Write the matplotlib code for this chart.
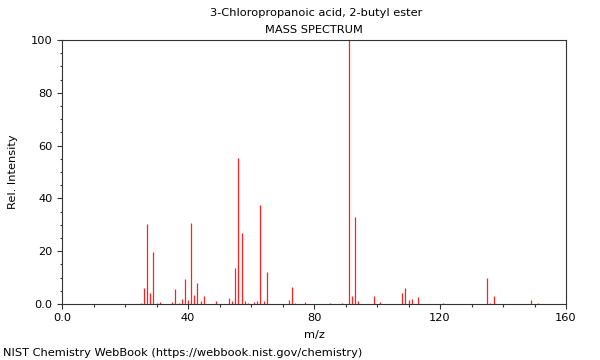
import matplotlib
matplotlib.use("Agg")
import matplotlib.pyplot as plt
from matplotlib.ticker import MultipleLocator

mz = [25, 26, 27, 28, 29, 30, 31, 35, 36, 37, 38, 39, 40, 41, 42, 43, 44, 45,
      49, 53, 54, 55, 56, 57, 58, 59, 61, 62, 63, 64, 65, 72, 73, 74, 77, 85,
      89, 91, 92, 93, 94, 99, 101, 108, 109, 110, 111, 113, 121, 135, 136,
      137, 149, 151]
intensity = [0.5, 6.2, 30.2, 4.0, 19.6, 0.5, 0.9, 0.9, 5.7, 0.5, 1.9, 9.6,
             1.5, 30.8, 3.5, 8.0, 1.3, 3.2, 1.3, 2.2, 1.1, 13.8, 55.3, 27.0,
             1.0, 0.5, 0.8, 1.1, 37.6, 1.3, 12.0, 1.6, 6.6, 0.4, 0.8, 0.4,
             0.4, 100.0, 3.0, 33.0, 1.1, 3.2, 0.8, 4.1, 6.2, 1.4, 1.8, 2.6,
             0.5, 9.8, 0.5, 3.2, 1.5, 0.4]

title1 = "3-Chloropropanoic acid, 2-butyl ester"
title2 = "MASS SPECTRUM"
xlabel = "m/z"
ylabel = "Rel. Intensity"
footer = "NIST Chemistry WebBook (https://webbook.nist.gov/chemistry)"
xticks = [0, 40, 80, 120, 160]
xticklabels = ["0.0", "40", "80", "120", "160"]
yticks = [0, 20, 40, 60, 80, 100]
yticklabels = ["0.0", "20", "40", "60", "80", "100"]

fig = plt.figure(figsize=(6, 3.6), dpi=100)
ax = fig.add_axes([62/600, 56/360, 504/600, 264/360])
ax.vlines(mz, 0, intensity, colors="#ff2020", linewidth=0.9)
ax.set_xlim(0, 160)
ax.set_ylim(0, 100)
ax.set_xticks(xticks)
ax.set_xticklabels(xticklabels)
ax.set_yticks(yticks)
ax.set_yticklabels(yticklabels)
ax.xaxis.set_minor_locator(MultipleLocator(10))
ax.yaxis.set_minor_locator(MultipleLocator(5))
ax.tick_params(which="major", direction="out", length=3.8, width=0.8,
               labelsize=8.2, color="#333333", pad=3)
ax.tick_params(which="minor", direction="out", length=1.8, width=0.8,
               color="#333333")
for s in ax.spines.values():
    s.set_color("#333333")
    s.set_linewidth(0.8)
ax.set_xlabel(xlabel, fontsize=8.2, labelpad=5)
ax.set_ylabel(ylabel, fontsize=8.2, labelpad=9)

fig.text(316/600, 1 - 13/360, title1, ha="center", va="center", fontsize=8.2)
fig.text(314/600, 1 - 30/360, title2, ha="center", va="center", fontsize=8.2)
fig.text(3/600, 1 - 353/360, footer, ha="left", va="center", fontsize=8.2)

fig.savefig("out.png", dpi=100)
